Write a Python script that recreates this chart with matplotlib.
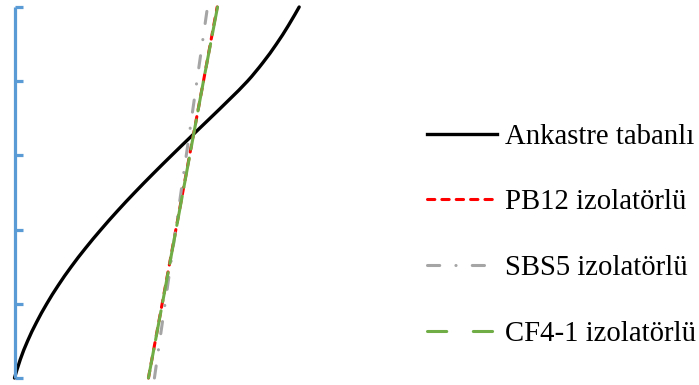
import matplotlib
matplotlib.use("Agg")
import matplotlib.pyplot as plt
from matplotlib.lines import Line2D
from matplotlib.path import Path
from matplotlib.patches import PathPatch

# Floor levels and lateral displacement profiles
floors_fixed = [0, 0.25, 0.5, 0.75, 1.0, 1.25, 1.5, 1.75, 2.0, 2.25, 2.5,
                2.75, 3.0, 3.25, 3.5, 3.75, 4.0, 4.25, 4.5, 4.75, 5.0]
ankastre = [0, 0.30, 0.68, 1.14, 1.67, 2.27, 2.94, 3.68, 4.48, 5.33, 6.23,
            7.17, 8.14, 9.13, 10.13, 11.12, 12.07, 12.87, 13.57, 14.19, 14.75]

floors_iso = [0, 1, 2, 3, 4, 5]
pb12 = [6.94, 7.65, 8.36, 9.07, 9.79, 10.50]
sbs5 = [7.25, 7.80, 8.35, 8.90, 9.45, 10.00]
cf41 = [6.94, 7.66, 8.37, 9.08, 9.79, 10.52]

labels = ["Ankastre tabanlı", "PB12 izolatörlü", "SBS5 izolatörlü", "CF4-1 izolatörlü"]
yticks = [0, 1, 2, 3, 4, 5]


def smooth_path(xs, ys):
    """Smoothed line through the points (Catmull-Rom as cubic Bezier segments)."""
    pts = list(zip(xs, ys))
    n = len(pts)
    verts = [pts[0]]
    codes = [Path.MOVETO]
    for i in range(n - 1):
        p0 = pts[max(i - 1, 0)]
        p1 = pts[i]
        p2 = pts[i + 1]
        p3 = pts[min(i + 2, n - 1)]
        c1 = (p1[0] + (p2[0] - p0[0]) / 6, p1[1] + (p2[1] - p0[1]) / 6)
        c2 = (p2[0] - (p3[0] - p1[0]) / 6, p2[1] - (p3[1] - p1[1]) / 6)
        verts += [c1, c2, p2]
        codes += [Path.CURVE4] * 3
    return Path(verts, codes)


W, H = 699, 385
fig = plt.figure(figsize=(W / 100, H / 100), dpi=100)
ax = fig.add_axes([14.5 / W, 7 / H, 386 / W, 371 / H])

lw = 2.2
black = "#000000"
red = "#FF0000"
grey = "#A5A5A5"
green = "#70AD47"
blue = "#5B9BD5"

ax.add_patch(PathPatch(smooth_path(ankastre, floors_fixed), fill=False,
                       edgecolor=black, lw=2.4, capstyle="round",
                       joinstyle="round", clip_on=False))
ax.plot(pb12, floors_iso, color=red, lw=lw, dashes=(2.4, 2.3),
        dash_capstyle="round", clip_on=False)
ax.plot(sbs5, floors_iso, color=grey, lw=lw, dashes=(4.0, 5.3, 0.05, 5.3),
        dash_capstyle="round", clip_on=False)
ax.plot(cf41, floors_iso, color=green, lw=lw, dashes=(9.7, 3.0),
        dash_capstyle="round", clip_on=False)

ax.set_xlim(0, 20)
ax.set_ylim(0, 5)
for side in ("top", "right", "bottom"):
    ax.spines[side].set_visible(False)
ax.spines["left"].set_color(blue)
ax.spines["left"].set_linewidth(2.3)
ax.spines["left"].set_capstyle("butt")
ax.set_xticks([])
ax.set_yticks(yticks)
ax.tick_params(axis="y", direction="in", length=5.5, width=2.3, color=blue,
               labelleft=False)

handles = [
    Line2D([], [], color=black, lw=2.4),
    Line2D([], [], color=red, lw=lw, dashes=(2.4, 2.3), dash_capstyle="round"),
    Line2D([], [], color=grey, lw=lw, dashes=(4.0, 5.3, 0.05, 5.3), dash_capstyle="round"),
    Line2D([], [], color=green, lw=lw, dashes=(6.3, 8.7), dash_capstyle="round"),
]
fig.legend(handles, labels, loc="center left", bbox_to_anchor=(427 / W, 0.389),
           bbox_transform=fig.transFigure, frameon=False, borderpad=0,
           borderaxespad=0, handlelength=2.42, handletextpad=0.28,
           labelspacing=1.38, prop={"family": "Liberation Serif", "size": 20.7})

fig.savefig("out.png", dpi=100)
